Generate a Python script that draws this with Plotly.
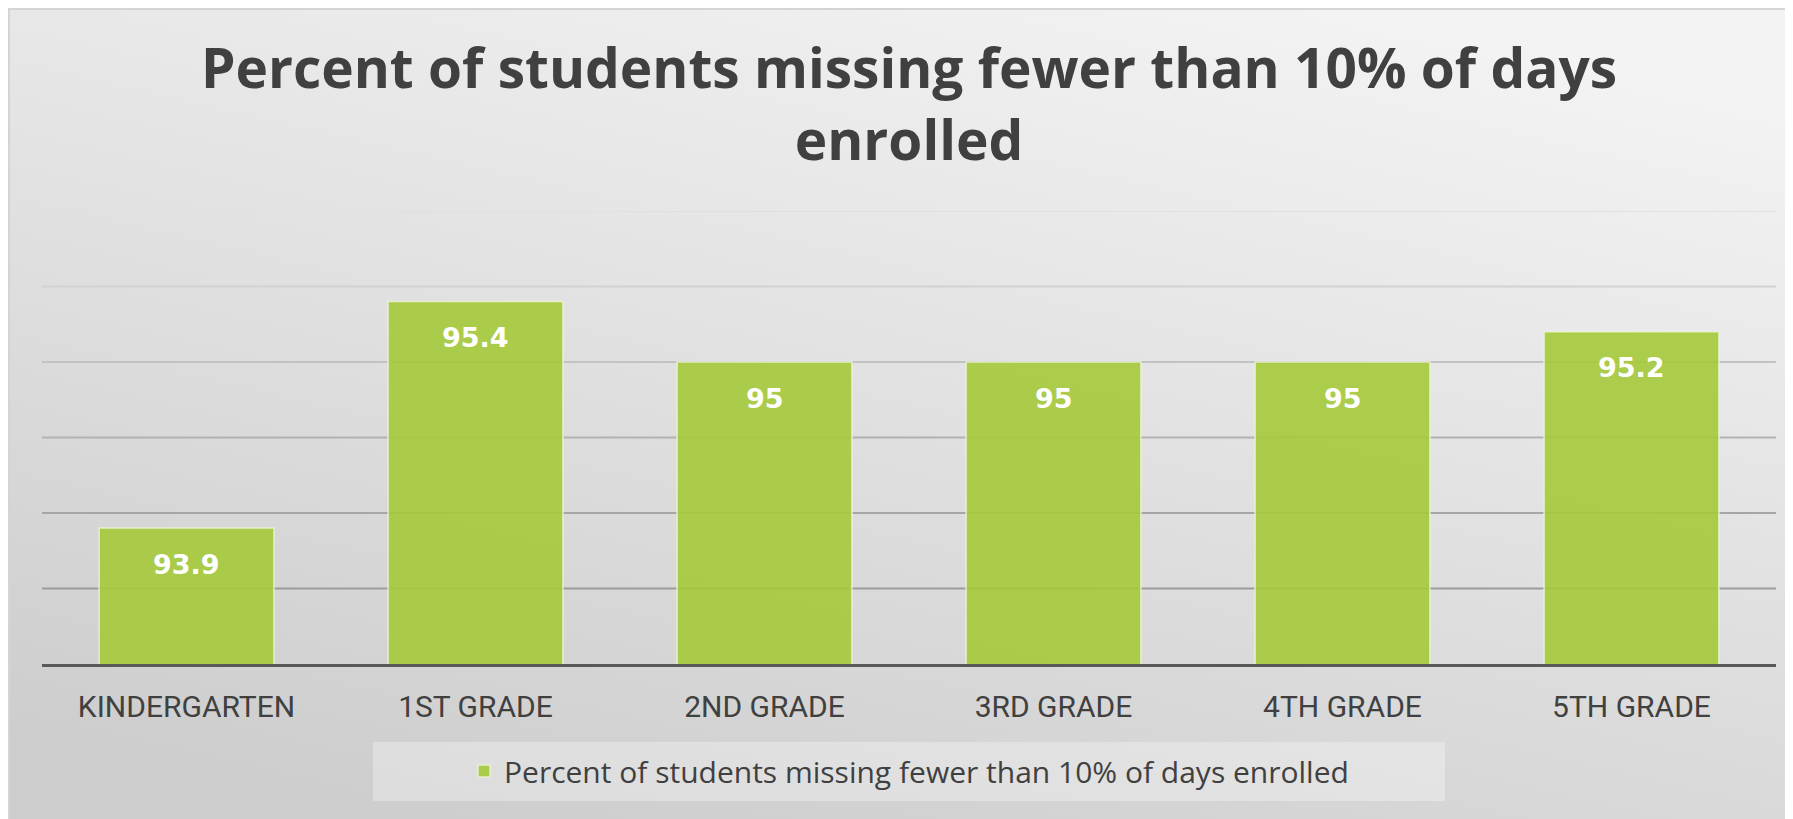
import base64
import plotly.graph_objects as go

# ---- data ----
categories = ["KINDERGARTEN", "1ST GRADE", "2ND GRADE", "3RD GRADE", "4TH GRADE", "5TH GRADE"]
values = [93.9, 95.4, 95, 95, 95, 95.2]
series_name = "Percent of students missing fewer than 10% of days enrolled"
title_text = "Percent of students missing fewer than 10% of days<br>enrolled"
y_min, y_max, y_step = 93, 96, 0.5
grid_values = [93.5, 94, 94.5, 95, 95.5, 96]
grid_colors = ["#9c9c9c", "#a6a6a6", "#b2b2b2", "#c2c2c2", "#d2d2d2", "#e0e0e0"]

# ---- layout geometry (page body has an 8px margin, so compensate) ----
OFF = 8
W, H = 1793 - OFF, 819 - OFF
ML, MR, MT, MB = 42 - OFF, 17, 211 - OFF, 155
PW, PH = W - ML - MR, H - MT - MB


def px_to_paper_x(px):
    return (px - OFF - ML) / PW


def px_to_paper_y(py):
    return (H - MB - (py - OFF)) / PH


# background gradient as an svg image
svg = (
    '<svg xmlns="http://www.w3.org/2000/svg" width="100" height="100" preserveAspectRatio="none" viewBox="0 0 100 100">'
    '<defs><linearGradient id="g" x1="0.75" y1="0" x2="0.25" y2="1">'
    '<stop offset="0" stop-color="#f3f3f3"/><stop offset="1" stop-color="#cdcdcd"/>'
    '</linearGradient></defs><rect width="100" height="100" fill="url(#g)"/></svg>'
)
bg_src = "data:image/svg+xml;base64," + base64.b64encode(svg.encode()).decode()

fig = go.Figure()
fig.add_trace(go.Bar(
    x=categories, y=values, name=series_name,
    marker=dict(color="rgba(164,202,58,0.9)",
                line=dict(color="rgba(236,244,214,0.85)", width=1.5)),
    showlegend=True, hoverinfo="skip",
))

# data labels
for c, v in zip(categories, values):
    fig.add_annotation(x=c, y=v, text=f"{v:g}", showarrow=False, yanchor="middle",
                       yshift=-36, font=dict(family="DejaVu Sans", size=27, color="white", weight="bold"))

shapes = []
# border frame
shapes.append(dict(type="rect", xref="paper", yref="paper",
                   x0=px_to_paper_x(9), x1=px_to_paper_x(1830),
                   y0=px_to_paper_y(860), y1=px_to_paper_y(9),
                   line=dict(color="#d4d4d4", width=2), fillcolor="rgba(0,0,0,0)", layer="below"))
# gridlines
for gv, gc in zip(grid_values, grid_colors):
    shapes.append(dict(type="line", xref="paper", yref="y", x0=0, x1=1, y0=gv, y1=gv,
                       line=dict(color=gc, width=2), layer="below"))
# legend background box
shapes.append(dict(type="rect", xref="paper", yref="paper",
                   x0=px_to_paper_x(373), x1=px_to_paper_x(1445),
                   y0=px_to_paper_y(801), y1=px_to_paper_y(742),
                   line=dict(width=0), fillcolor="rgba(255,255,255,0.3)", layer="below"))

fig.update_layout(
    width=W, height=H,
    margin=dict(l=ML, r=MR, t=MT, b=MB, autoexpand=False),
    paper_bgcolor="white",
    plot_bgcolor="rgba(0,0,0,0)",
    title=dict(text=title_text, x=0.5, xanchor="center", xref="paper",
               y=1 - 80 / H, yanchor="top", yref="container",
               font=dict(family="Open Sans", size=55, color="#404040", weight="bold")),
    images=[dict(source=bg_src, xref="paper", yref="paper",
                 x=px_to_paper_x(10), y=px_to_paper_y(10),
                 sizex=(W + 20) / PW, sizey=(H + 20) / PH,
                 sizing="stretch", xanchor="left", yanchor="top", layer="below")],
    shapes=shapes,
    bargap=0.395,
    showlegend=True,
    legend=dict(orientation="h", x=0.5, xanchor="center", y=1 - (771 - OFF) / H, yanchor="middle",
                yref="container", bgcolor="rgba(0,0,0,0)",
                font=dict(family="Open Sans", size=30, color="#404040")),
    xaxis=dict(showline=True, linecolor="#595959", linewidth=3, ticks="",
               tickfont=dict(family="Roboto", size=30, color="#404040"), automargin=False,
               ticklabelstandoff=14, showgrid=False, zeroline=False, fixedrange=True),
    yaxis=dict(range=[y_min, y_max], dtick=y_step, showticklabels=False, showgrid=False,
               zeroline=False, fixedrange=True, automargin=False),
)

fig.write_html("out.html", config={"displayModeBar": False})
